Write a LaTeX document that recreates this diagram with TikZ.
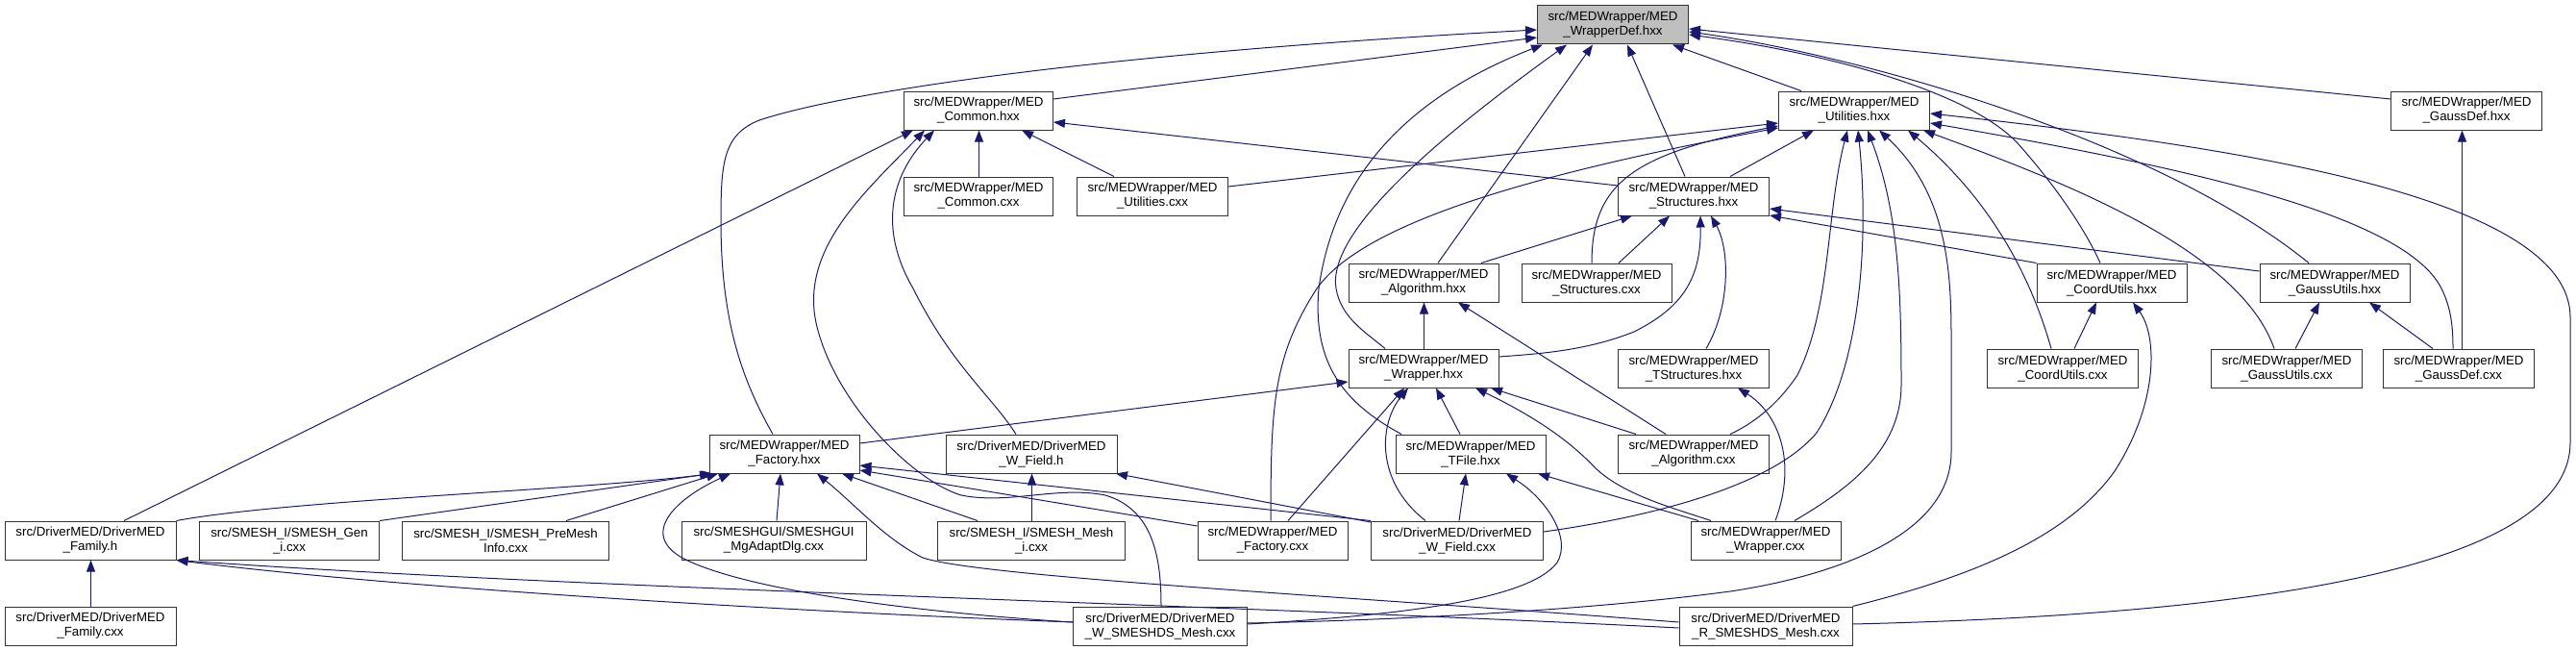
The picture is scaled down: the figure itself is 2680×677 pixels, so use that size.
\documentclass[tikz,border=0pt]{standalone}
\usepackage{fontspec}
\setmainfont{Liberation Sans}
\usetikzlibrary{arrows.meta}
\definecolor{edgeblue}{HTML}{191970}
\definecolor{hlgray}{HTML}{BFBFBF}
\newcommand\MWp{src/MEDWrapper/MED}
\newcommand\DMp{src/DriverMED/DriverMED}
\tikzset{
  box/.style={draw=black!80, line width=1pt, fill=white, minimum width=#1, minimum height=40pt,
    inner sep=0pt, align=center, font=\fontsize{13.3}{15}\selectfont},
  e/.style={draw=edgeblue, line width=1pt, {Triangle[length=12pt,width=9pt]}-}
}
\begin{document}
\begin{tikzpicture}[x=1pt,y=-1pt]
\useasboundingbox (0,0) rectangle (2680,677);
% row 1
\node[box=157pt, fill=hlgray] (WD) at (1678,26) {\MWp\\\_WrapperDef.hxx};
% row 2
\node[box=155pt] (CH) at (1018,115) {\MWp\\\_Common.hxx};
\node[box=157pt] (UH) at (1929,115) {\MWp\\\_Utilities.hxx};
\node[box=157pt] (GDH) at (2566,115) {\MWp\\\_GaussDef.hxx};
% row 3
\node[box=155pt] (CC) at (1018,204) {\MWp\\\_Common.cxx};
\node[box=157pt] (UC) at (1199,204) {\MWp\\\_Utilities.cxx};
\node[box=157pt] (SH) at (1762,204) {\MWp\\\_Structures.hxx};
% row 4
\node[box=156pt] (AH) at (1481,294) {\MWp\\\_Algorithm.hxx};
\node[box=156pt] (SC) at (1661,294) {\MWp\\\_Structures.cxx};
\node[box=156pt] (CUH) at (2197,294) {\MWp\\\_CoordUtils.hxx};
\node[box=156pt] (GUH) at (2429,294) {\MWp\\\_GaussUtils.hxx};
% row 5
\node[box=156pt] (WH) at (1481,383) {\MWp\\\_Wrapper.hxx};
\node[box=157pt] (TSH) at (1762,383) {\MWp\\\_TStructures.hxx};
\node[box=157pt] (CUC) at (2146,383) {\MWp\\\_CoordUtils.cxx};
\node[box=157pt] (GUC) at (2379,383) {\MWp\\\_GaussUtils.cxx};
\node[box=157pt] (GDC) at (2558,383) {\MWp\\\_GaussDef.cxx};
% row 6
\node[box=156pt] (FH) at (816,472) {\MWp\\\_Factory.hxx};
\node[box=178pt] (WFh) at (1073,472) {\DMp\\\_W\_Field.h};
\node[box=156pt] (TF) at (1530,472) {\MWp\\\_TFile.hxx};
\node[box=157pt] (AC) at (1762,472) {\MWp\\\_Algorithm.cxx};
% row 7
\node[box=178pt] (Fam) at (94,562) {\DMp\\\_Family.h};
\node[box=187pt] (Gen) at (301,562) {src/SMESH\_I/SMESH\_Gen\\\_i.cxx};
\node[box=215pt] (Pre) at (526,562) {src/SMESH\_I/SMESH\_PreMesh\\Info.cxx};
\node[box=192pt] (Mg) at (805,562) {src/SMESHGUI/SMESHGUI\\\_MgAdaptDlg.cxx};
\node[box=195pt] (Mi) at (1073,562) {src/SMESH\_I/SMESH\_Mesh\\\_i.cxx};
\node[box=156pt] (FC) at (1324,562) {\MWp\\\_Factory.cxx};
\node[box=179pt] (WFc) at (1516,562) {\DMp\\\_W\_Field.cxx};
\node[box=156pt] (WC) at (1837,562) {\MWp\\\_Wrapper.cxx};
% row 8
\node[box=178pt] (FamC) at (94,651) {\DMp\\\_Family.cxx};
\node[box=181pt] (WS) at (1207,651) {\DMp\\\_W\_SMESHDS\_Mesh.cxx};
\node[box=180pt] (RS) at (1837,651) {\DMp\\\_R\_SMESHDS\_Mesh.cxx};

% ---- edges into WrapperDef
\draw[e] ([yshift=-13pt]WD.west) -- ([yshift=12pt]CH.east);
\draw[e] ([yshift=-5pt]WD.west) .. controls (1150,55) and (880,95) .. (790,125)
  .. controls (752,140) and (750,170) .. (750,230)
  .. controls (750,340) and (775,400) .. ([xshift=-12pt]FH.north);
\draw[e] ([xshift=-73pt]WD.south) .. controls (1480,95) and (1390,170) .. (1372,300)
  .. controls (1365,380) and (1400,420) .. ([xshift=-72pt]TF.north);
\draw[e] ([xshift=-48pt]WD.south) .. controls (1500,140) and (1380,240) .. (1390,300)
  .. controls (1395,330) and (1420,345) .. ([xshift=-40pt]WH.north);
\draw[e] ([xshift=-21pt]WD.south) -- ([xshift=15pt]AH.north);
\draw[e] ([xshift=15pt]WD.south) -- ([xshift=-9pt]SH.north);
\draw[e] ([xshift=62pt]WD.south) -- ([xshift=-55pt]UH.north);
\draw[e] ([yshift=-4pt]WD.east) -- ([yshift=12pt]GDH.west);
\draw[e] ([yshift=-10pt]WD.east) .. controls (1900,55) and (2050,95) .. (2100,150)
  .. controls (2140,195) and (2170,240) .. ([xshift=-12pt]CUH.north);
\draw[e] ([yshift=-7pt]WD.east) .. controls (1950,60) and (2250,150) .. ([xshift=-27pt]GUH.north);

% ---- edges into Common.hxx
\draw[e] ([xshift=0.5pt]CH.south) -- ([xshift=0.5pt]CC.north);
\draw[e] ([xshift=45pt]CH.south) -- ([xshift=-40pt]UC.north);
\draw[e] ([xshift=-68pt]CH.south) -- ([xshift=35pt]Fam.north);
\draw[e] ([xshift=-56pt]CH.south) .. controls (900,200) and (830,260) .. (850,340)
  .. controls (870,420) and (950,500) .. (1000,515)
  .. controls (1050,525) and (1100,505) .. (1150,515)
  .. controls (1200,530) and (1208,580) .. ([xshift=1pt]WS.north);
\draw[e] ([xshift=-46pt]CH.south) .. controls (925,185) and (915,240) .. (950,300)
  .. controls (990,380) and (1030,410) .. ([xshift=-16pt]WFh.north);
\draw[e] ([yshift=-12pt]CH.east) -- ([yshift=11pt]SH.west);

% ---- edges into Utilities.hxx
\draw[e] ([yshift=-13pt]UH.west) -- ([yshift=10pt]UC.east);
\draw[e] ([yshift=-16pt]UH.west) .. controls (1700,160) and (1656,190) .. ([xshift=-5pt]SC.north);
\draw[e] ([yshift=-18pt]UH.west) .. controls (1600,180) and (1420,230) .. (1370,300)
  .. controls (1325,370) and (1322,420) .. ([xshift=-2pt]FC.north);
\draw[e] ([xshift=-42pt]UH.south) -- ([xshift=38pt]SH.north);
\draw[e] ([xshift=-7pt]UH.south) .. controls (1900,220) and (1905,320) .. (1870,390)
  .. controls (1850,420) and (1825,440) .. ([xshift=38pt]AC.north);
\draw[e] ([xshift=4pt]UH.south) .. controls (1945,250) and (1935,380) .. (1890,450)
  .. controls (1840,510) and (1700,540) .. ([yshift=9pt]WFc.east);
\draw[e] ([xshift=14pt]UH.south) .. controls (1975,220) and (1978,300) .. (1978,400)
  .. controls (1978,470) and (1920,510) .. ([xshift=30pt]WC.north);
\draw[e] ([xshift=26pt]UH.south) .. controls (2025,200) and (2030,280) .. (2030,350)
  -- (2030,470) .. controls (2030,560) and (1900,600) .. (1800,615)
  .. controls (1650,635) and (1450,645) .. ([yshift=3pt]WS.east);
\draw[e] ([xshift=56pt]UH.south) .. controls (2050,190) and (2105,260) .. ([xshift=-12pt]CUC.north);
\draw[e] ([xshift=-7pt]UH.south east) .. controls (2150,190) and (2330,260) .. ([xshift=-13pt]GUC.north);
\draw[e] ([yshift=-13pt]UH.east) .. controls (2250,170) and (2500,220) .. (2540,300)
  .. controls (2550,320) and (2552,340) .. ([xshift=-6pt]GDC.north);
\draw[e] ([yshift=-3pt]UH.east) .. controls (2300,150) and (2674,200) .. (2674,330)
  -- (2674,460) .. controls (2674,600) and (2300,640) .. ([yshift=2pt]RS.east);

% ---- Gauss / Coord
\draw[e] ([xshift=-4.5pt]GDH.south) -- ([xshift=3.5pt]GDC.north);
\draw[e] ([xshift=36pt]GUH.south) -- ([xshift=-27pt]GDC.north);
\draw[e] ([xshift=-16pt]GUH.south) -- ([xshift=9pt]GUC.north);
\draw[e] ([xshift=-16pt]CUH.south) -- ([xshift=12pt]CUC.north);
\draw[e] ([xshift=22pt]CUH.south) .. controls (2245,350) and (2245,420) .. (2200,490)
  .. controls (2150,560) and (2050,600) .. (RS.north east);

% ---- edges into Structures.hxx
\draw[e] ([yshift=-13pt]SH.east) -- ([yshift=12pt]GUH.west);
\draw[e] ([yshift=-20pt]SH.east) -- (CUH.north west);
\draw[e] ([xshift=-64pt]SH.south) -- ([xshift=60pt]AH.north);
\draw[e] ([xshift=-25pt]SH.south) -- ([xshift=23pt]SC.north);
\draw[e] ([xshift=7pt]SH.south) .. controls (1770,290) and (1750,320) .. (1700,345)
  .. controls (1650,365) and (1600,368) .. ([yshift=12pt]WH.east);
\draw[e] ([xshift=18pt]SH.south) .. controls (1800,260) and (1800,320) .. ([xshift=13pt]TSH.north);

% ---- Algorithm.hxx
\draw[e] ([xshift=0.5pt]AH.south) -- ([xshift=0.5pt]WH.north);
\draw[e] ([xshift=36pt]AH.south) -- ([xshift=-29pt]AC.north);

% ---- Wrapper.hxx
\draw[e] ([yshift=-14pt]WH.west) -- ([yshift=11pt]FH.east);
\draw[e] ([xshift=-20pt]WH.south) -- ([xshift=16pt]FC.north);
\draw[e] ([xshift=-16pt]WH.south) .. controls (1435,440) and (1430,500) .. ([xshift=-33pt]WFc.north);
\draw[e] ([xshift=13pt]WH.south) -- ([xshift=-11pt]TF.north);
\draw[e] ([xshift=70pt]WH.south) -- ([xshift=-60pt]AC.north);
\draw[e] ([xshift=54pt]WH.south) .. controls (1590,430) and (1630,455) .. (1660,487)
  .. controls (1690,515) and (1740,528) .. ([xshift=-57pt]WC.north);

% ---- TFile / TStructures
\draw[e] ([xshift=-5pt]TF.south) -- ([xshift=2pt]WFc.north);
\draw[e] ([xshift=70pt]TF.south) -- ([xshift=-70pt]WC.north);
\draw[e] ([xshift=37pt]TF.south) .. controls (1610,520) and (1635,560) .. (1620,585)
  .. controls (1590,625) and (1450,640) .. ([yshift=2pt]WS.east);
\draw[e] ([xshift=46pt]TSH.south) .. controls (1850,430) and (1870,480) .. ([xshift=10pt]WC.north);

% ---- Factory.hxx
\draw[e] ([xshift=-74pt]FH.south) .. controls (600,510) and (300,520) .. (Fam.north east);
\draw[e] ([xshift=-76pt]FH.south) -- (Gen.north east);
\draw[e] ([xshift=-69pt]FH.south) -- ([xshift=63pt]Pre.north);
\draw[e] ([xshift=-4pt]FH.south) -- ([xshift=3pt]Mg.north);
\draw[e] ([xshift=60pt]FH.south) -- ([xshift=-56pt]Mi.north);
\draw[e] ([yshift=-17pt]FH.east) -- ([yshift=15pt]FC.west);
\draw[e] ([yshift=-12pt]FH.east) -- (WFc.north west);
\draw[e] ([xshift=-56pt]FH.south) .. controls (700,520) and (660,560) .. (720,585)
  .. controls (800,620) and (1000,640) .. ([yshift=4pt]WS.west);
\draw[e] ([xshift=34pt]FH.south) .. controls (890,525) and (920,560) .. (960,580)
  .. controls (1020,600) and (1400,620) .. ([yshift=4pt]RS.west);

% ---- W_Field.h
\draw[e] ([xshift=0.5pt]WFh.south) -- ([xshift=0.5pt]Mi.north);
\draw[e] ([xshift=88pt]WFh.south) -- ([yshift=19pt]WFc.west);

% ---- Family.h
\draw[e] ([xshift=0.5pt]Fam.south) -- ([xshift=0.5pt]FamC.north);
\draw[e] (Fam.south east) .. controls (400,610) and (800,635) .. ([yshift=4pt]WS.west);
\draw[e] (Fam.south east) .. controls (600,612) and (1300,630) .. ([yshift=-2pt]RS.west);
\end{tikzpicture}
\end{document}
